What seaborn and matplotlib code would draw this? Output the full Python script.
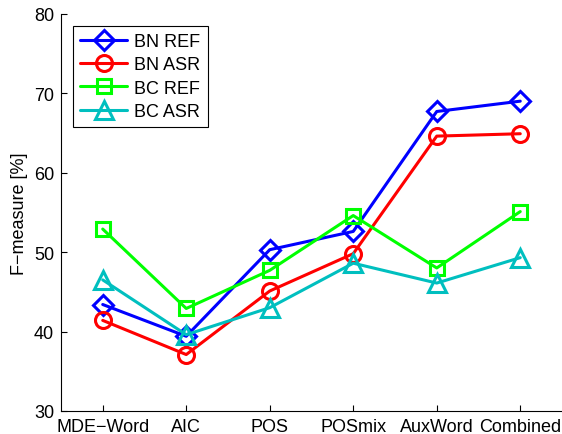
import matplotlib
matplotlib.use("Agg")
import matplotlib.pyplot as plt
import numpy as np
import seaborn as sns

# Feature sets on the x axis
categories = ["MDE\u2212Word", "AIC", "POS", "POSmix", "AuxWord", "Combined"]

# F-measure per condition
bn_ref = [43.4, 39.4, 50.3, 52.6, 67.7, 69.0]
bn_asr = [41.4, 37.1, 45.1, 49.8, 64.6, 64.9]
bc_ref = [52.9, 42.9, 47.7, 54.6, 48.0, 55.1]
bc_asr = [46.5, 39.6, 43.0, 48.6, 46.1, 49.3]

series_names = ["BN REF", "BN ASR", "BC REF", "BC ASR"]
series_values = [bn_ref, bn_asr, bc_ref, bc_asr]
colors = ["#0000ff", "#ff0000", "#00ff00", "#00bfbf"]
markers = ["D", "o", "s", "^"]
msizes = [10.5, 11.5, 9.5, 13]

sns.set_style("ticks")
plt.rcParams["font.family"] = ["Liberation Sans", "DejaVu Sans"]
plt.rcParams["text.color"] = "black"
plt.rcParams["axes.labelcolor"] = "black"
plt.rcParams["xtick.color"] = "black"
plt.rcParams["ytick.color"] = "black"

fig = plt.figure(figsize=(5.62, 4.35), dpi=100)
ax = fig.add_axes([0.1085, 0.053, 0.8915, 0.913])

x = np.arange(1, len(categories) + 1)

for name, vals, c, m, ms in zip(series_names, series_values, colors, markers, msizes):
    sns.lineplot(
        x=x,
        y=vals,
        color=c,
        marker=m,
        markersize=ms,
        markerfacecolor="none",
        markeredgecolor=c,
        markeredgewidth=2.2,
        linewidth=2.2,
        label=name,
        sort=False,
        ax=ax
    )

ax.set_xlim(0.5, 6.5)
ax.set_ylim(30, 80)
ax.set_xticks(x)
ax.set_xticklabels(categories)
ax.set_yticks([30, 40, 50, 60, 70, 80])
ax.set_ylabel("F\u2212measure [%]", fontsize=13, labelpad=4)
ax.set_xlabel("")

ax.tick_params(direction="in", length=4, width=0.8, labelsize=13, pad=5)

sns.despine(ax=ax)
for s in ["left", "bottom"]:
    ax.spines[s].set_linewidth(0.8)
    ax.spines[s].set_color("black")

leg = ax.legend(
    loc="upper left",
    bbox_to_anchor=(0.024, 0.97),
    borderaxespad=0,
    fontsize=13,
    frameon=True,
    fancybox=False,
    handlelength=2.6,
    handletextpad=0.4,
    labelspacing=0.35,
    borderpad=0.4
)
leg.get_frame().set_edgecolor("black")
leg.get_frame().set_linewidth(0.8)
leg.get_frame().set_alpha(1)

plt.savefig("out.png", dpi=100)
